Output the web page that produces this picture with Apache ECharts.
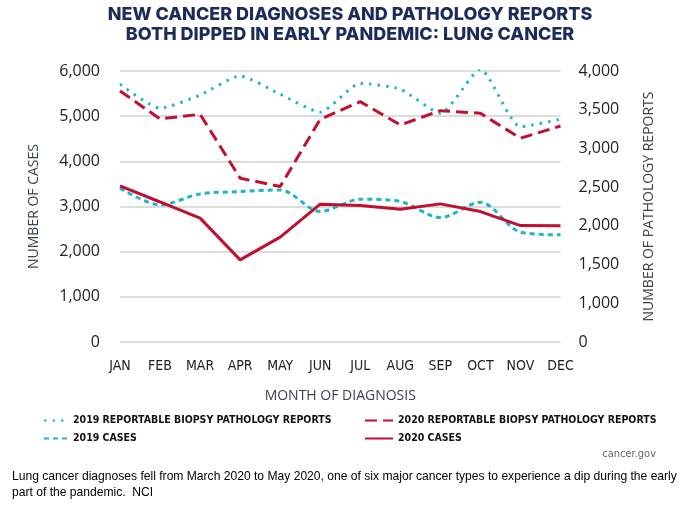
<!DOCTYPE html>
<html><head><meta charset="utf-8">
<script src="https://cdn.jsdelivr.net/npm/echarts@6/dist/echarts.min.js"></script>
<style>html,body{margin:0;padding:0;background:#fff}#c{width:700px;height:506px}</style>
</head><body><div id="c"></div>
<script>
var months = ['JAN','FEB','MAR','APR','MAY','JUN','JUL','AUG','SEP','OCT','NOV','DEC'];
var path2019 = [3830, 3520, 3690, 3935, 3700, 3470, 3840, 3765, 3455, 4022, 3281, 3377];
var path2020 = [3742, 3381, 3441, 2616, 2508, 3377, 3604, 3303, 3488, 3454, 3132, 3290];
var cases2019 = [3405, 3036, 3279, 3330, 3368, 2888, 3162, 3110, 2755, 3096, 2432, 2372];
var cases2020 = [3456, 3100, 2742, 1819, 2321, 3051, 3022, 2941, 3058, 2888, 2578, 2574];
var leftTicks = [0, 1000, 2000, 3000, 4000, 5000, 6000];
var rightTickLabels = {500: '0', 1000: '1,000', 1500: '1,500', 2000: '2,000', 2500: '2,500', 3000: '3,000', 3500: '3,500', 4000: '4,000'};
var names = ['2019 REPORTABLE BIOPSY PATHOLOGY REPORTS', '2020 REPORTABLE BIOPSY PATHOLOGY REPORTS', '2019 CASES', '2020 CASES'];
var title1 = 'NEW CANCER DIAGNOSES AND PATHOLOGY REPORTS';
var title2 = 'BOTH DIPPED IN EARLY PANDEMIC: LUNG CANCER';
var caption1 = 'Lung cancer diagnoses fell from March 2020 to May 2020, one of six major cancer types to experience a dip during the early';
var caption2 = 'part of the pandemic.  NCI';

var TEAL = '#20b5c3', RED = '#c0102f', NAVY = '#1b2b5b';
var COND = '"DejaVu Sans Condensed", Roboto, sans-serif';
var chart = echarts.init(document.getElementById('c'), null, {renderer: 'canvas'});
var legendText = {fontFamily: COND, fontWeight: 'bold', fontSize: 10.5, color: '#111'};
chart.setOption({
  animation: false,
  grid: {left: 120, right: 139.5, top: 71, bottom: 164},
  xAxis: {
    type: 'category', data: months, boundaryGap: false,
    axisLine: {show: false}, axisTick: {show: false},
    axisLabel: {fontFamily: COND, fontSize: 14, color: '#222', margin: 17, interval: 0},
    name: 'MONTH OF DIAGNOSIS', nameLocation: 'middle', nameGap: 47,
    nameTextStyle: {fontFamily: 'Open Sans', fontSize: 14, color: '#3a4350'}
  },
  yAxis: [{
    type: 'value', min: 0, max: 6000, interval: 1000,
    axisLine: {show: false}, axisTick: {show: false},
    splitLine: {lineStyle: {color: '#dcdcdc', width: 2}},
    axisLabel: {fontFamily: 'Open Sans', fontSize: 16, color: '#222', margin: 20,
      formatter: function (v) { return v.toLocaleString('en-US'); }},
    name: 'NUMBER OF CASES', nameLocation: 'middle', nameGap: 79,
    nameTextStyle: {fontFamily: 'Open Sans', fontSize: 14, color: '#3a4350'}
  }, {
    type: 'value', min: 500, max: 4000, interval: 500, position: 'right',
    axisLine: {show: false}, axisTick: {show: false}, splitLine: {show: false},
    axisLabel: {fontFamily: 'Open Sans', fontSize: 16, color: '#222', margin: 18,
      formatter: function (v) { return rightTickLabels[v] || ''; }},
    name: 'NUMBER OF PATHOLOGY REPORTS', nameLocation: 'middle', nameGap: 82,
    nameTextStyle: {fontFamily: 'Open Sans', fontSize: 14, color: '#3a4350'}
  }],
  legend: [{
    left: 38, top: 410, orient: 'vertical', itemGap: 7, itemWidth: 24, itemHeight: 10,
    itemStyle: {opacity: 0},
    data: [names[0], names[2]], textStyle: legendText
  }, {
    left: 359, top: 410, orient: 'vertical', itemGap: 7, itemWidth: 28, itemHeight: 10,
    itemStyle: {opacity: 0},
    data: [names[1], names[3]], textStyle: legendText
  }],
  series: [
    {name: names[0], type: 'line', yAxisIndex: 1, data: path2019, symbol: 'none', smooth: 0.2,
      lineStyle: {color: TEAL, width: 3, type: [2.5, 6]}, itemStyle: {color: TEAL}},
    {name: names[1], type: 'line', yAxisIndex: 1, data: path2020, symbol: 'none',
      lineStyle: {color: RED, width: 3, type: [12, 6]}, itemStyle: {color: RED}},
    {name: names[2], type: 'line', yAxisIndex: 0, data: cases2019, symbol: 'none', smooth: 0.3,
      lineStyle: {color: TEAL, width: 3, type: [5, 4]}, itemStyle: {color: TEAL}},
    {name: names[3], type: 'line', yAxisIndex: 0, data: cases2020, symbol: 'none',
      lineStyle: {color: RED, width: 3}, itemStyle: {color: RED}}
  ],
  graphic: [
    {type: 'text', left: 'center', top: 6, style: {text: title1, fontFamily: 'Inter', fontWeight: 800, fontSize: 18, fill: NAVY}},
    {type: 'text', left: 'center', top: 26, style: {text: title2, fontFamily: 'Inter', fontWeight: 800, fontSize: 18, fill: NAVY}},
    {type: 'text', right: 44, top: 449, style: {text: 'cancer.gov', fontFamily: COND, fontSize: 11, fill: '#666'}},
    {type: 'text', left: 12, top: 471, style: {text: caption1, fontFamily: 'Liberation Sans', fontSize: 12.1, fill: '#000'}},
    {type: 'text', left: 12, top: 487, style: {text: caption2, fontFamily: 'Liberation Sans', fontSize: 12.1, fill: '#000'}}
  ]
});
</script></body></html>
